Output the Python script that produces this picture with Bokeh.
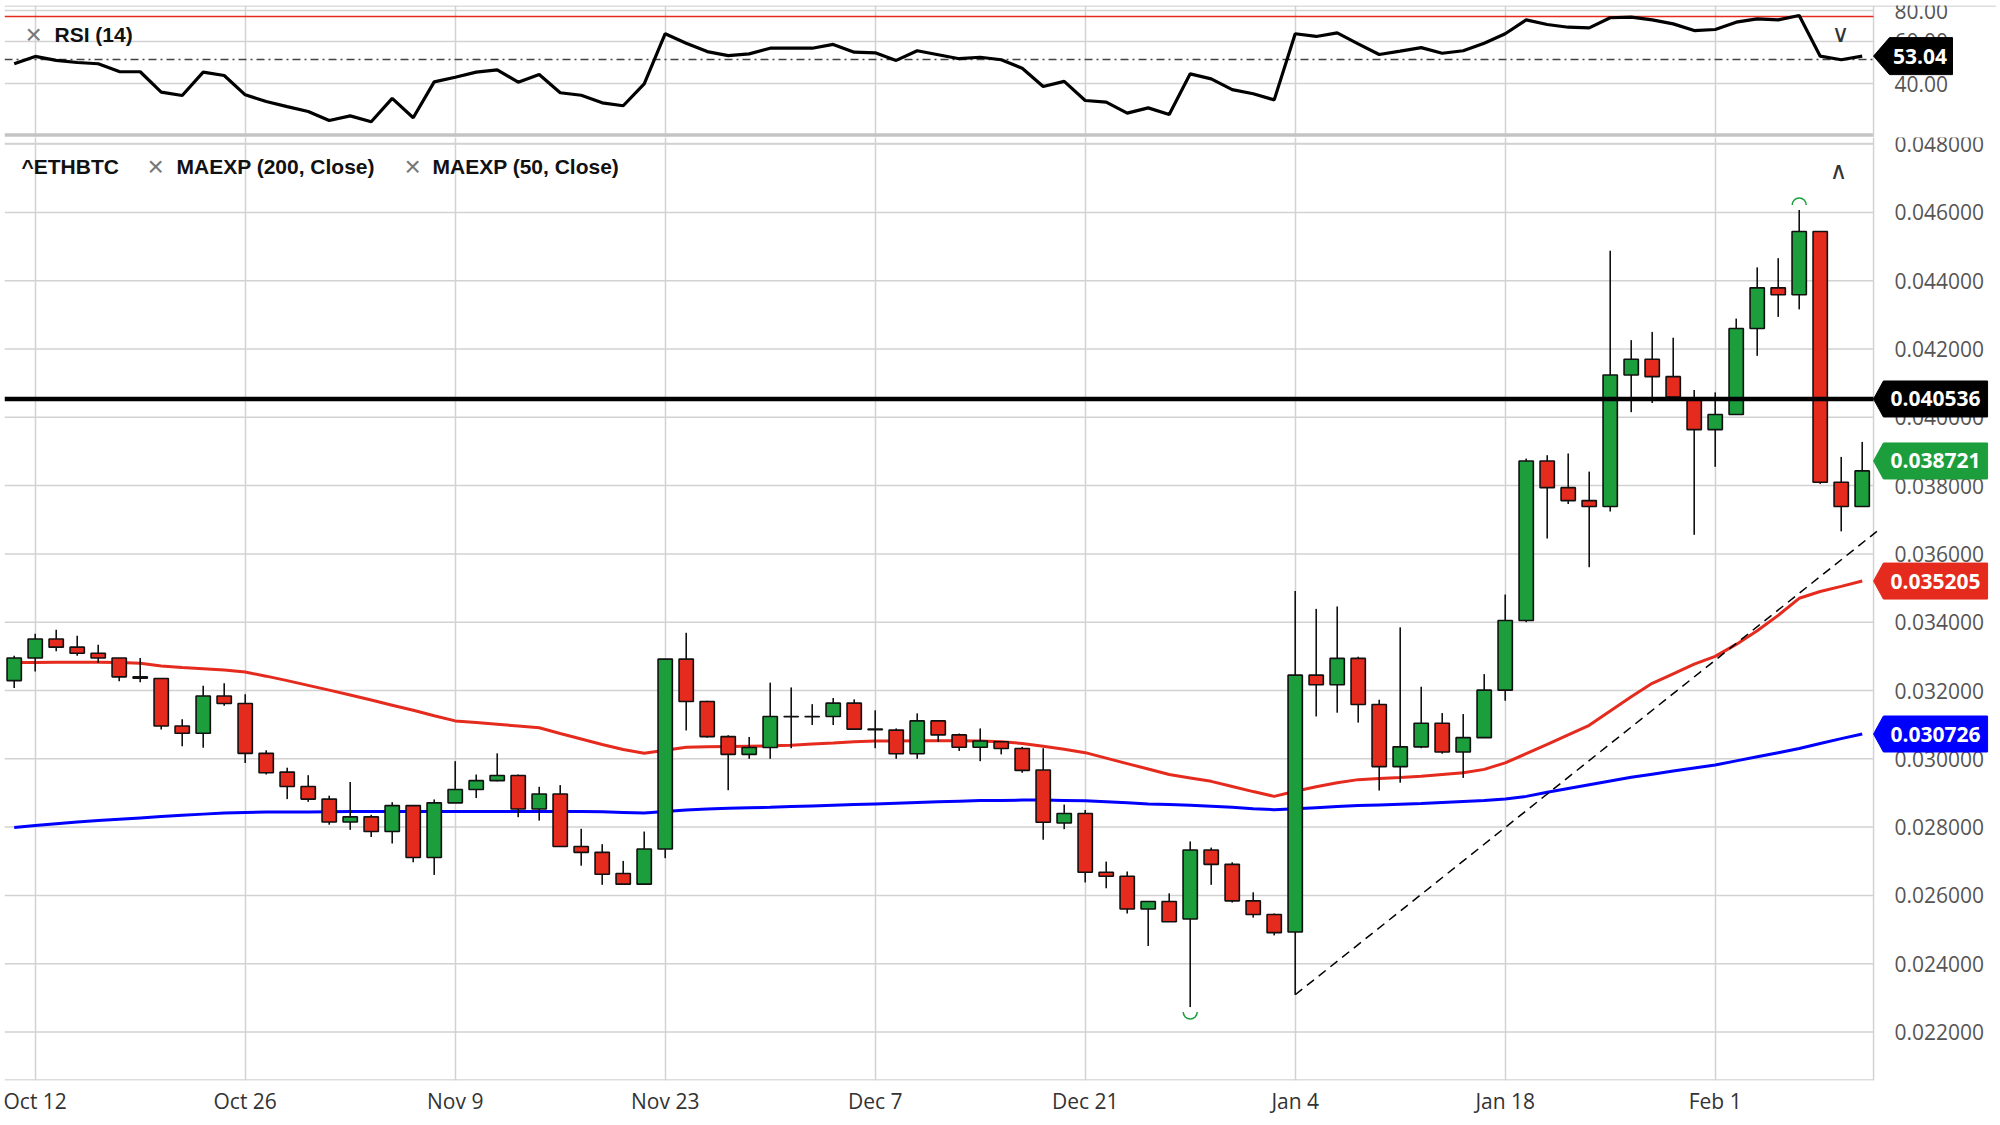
from bokeh.plotting import figure
from bokeh.models import FixedTicker, Label, Range1d
from bokeh.layouts import column
from bokeh.embed import file_html
from bokeh.resources import INLINE
from bokeh.core.properties import value

# ---------------- data ----------------
opens = [0.03229, 0.03295, 0.03351, 0.03327, 0.03309, 0.03295, 0.03240, 0.03235, 0.03096, 0.03075,
         0.03184, 0.03162, 0.03016, 0.02961, 0.02919, 0.02882, 0.02815, 0.02830, 0.02787, 0.02863,
         0.02711, 0.02871, 0.02910, 0.02936, 0.02951, 0.02853, 0.02897, 0.02743, 0.02726, 0.02664,
         0.02633, 0.02736, 0.03292, 0.03168, 0.03065, 0.03013, 0.03033, 0.03124, 0.03123, 0.03124,
         0.03163, 0.03087, 0.03084, 0.03015, 0.03111, 0.03070, 0.03034, 0.03050, 0.03030, 0.02967,
         0.02812, 0.02840, 0.02668, 0.02656, 0.02560, 0.02582, 0.02531, 0.02733, 0.02691, 0.02584,
         0.02544, 0.02493, 0.03245, 0.03217, 0.03294, 0.03159, 0.02977, 0.03035, 0.03104, 0.03020,
         0.03062, 0.03201, 0.03405, 0.03872, 0.03794, 0.03756, 0.03739, 0.04124, 0.04170, 0.04119,
         0.04051, 0.03964, 0.04008, 0.04260, 0.04379, 0.04359, 0.04544, 0.03810, 0.03739]
highs = [0.03302, 0.03366, 0.03378, 0.03360, 0.03334, 0.03295, 0.03295, 0.03235, 0.03116, 0.03214,
         0.03221, 0.03189, 0.03025, 0.02974, 0.02952, 0.02892, 0.02932, 0.02836, 0.02873, 0.02863,
         0.02881, 0.02993, 0.02954, 0.03016, 0.02954, 0.02918, 0.02923, 0.02795, 0.02750, 0.02701,
         0.02787, 0.03292, 0.03369, 0.03170, 0.03069, 0.03064, 0.03223, 0.03209, 0.03160, 0.03178,
         0.03174, 0.03142, 0.03089, 0.03133, 0.03111, 0.03074, 0.03089, 0.03050, 0.03035, 0.03031,
         0.02866, 0.02850, 0.02699, 0.02670, 0.02583, 0.02606, 0.02758, 0.02740, 0.02697, 0.02609,
         0.02547, 0.03491, 0.03439, 0.03446, 0.03299, 0.03173, 0.03385, 0.03211, 0.03134, 0.03131,
         0.03248, 0.03481, 0.03879, 0.03889, 0.03894, 0.03841, 0.04488, 0.04226, 0.04250, 0.04233,
         0.04080, 0.04073, 0.04289, 0.04439, 0.04466, 0.04607, 0.04544, 0.03884, 0.03928]
lows = [0.03207, 0.03256, 0.03315, 0.03302, 0.03281, 0.03227, 0.03224, 0.03086, 0.03037, 0.03032,
        0.03155, 0.02988, 0.02954, 0.02882, 0.02874, 0.02807, 0.02792, 0.02771, 0.02752, 0.02697,
        0.02660, 0.02871, 0.02885, 0.02934, 0.02829, 0.02819, 0.02743, 0.02687, 0.02631, 0.02631,
        0.02633, 0.02709, 0.03083, 0.03062, 0.02908, 0.03000, 0.03000, 0.03031, 0.03099, 0.03099,
        0.03087, 0.03031, 0.03000, 0.03000, 0.03050, 0.03023, 0.02993, 0.03013, 0.02959, 0.02763,
        0.02794, 0.02638, 0.02621, 0.02547, 0.02452, 0.02523, 0.02273, 0.02631, 0.02579, 0.02535,
        0.02483, 0.02309, 0.03124, 0.03135, 0.03106, 0.02907, 0.02930, 0.03031, 0.03015, 0.02944,
        0.03062, 0.03170, 0.03400, 0.03645, 0.03746, 0.03561, 0.03724, 0.04015, 0.04042, 0.04054,
        0.03656, 0.03855, 0.04008, 0.04180, 0.04294, 0.04316, 0.03805, 0.03666, 0.03739]
closes = [0.03295, 0.03351, 0.03327, 0.03309, 0.03295, 0.03240, 0.03236, 0.03096, 0.03075, 0.03184,
          0.03162, 0.03016, 0.02959, 0.02919, 0.02882, 0.02815, 0.02830, 0.02787, 0.02863, 0.02711,
          0.02871, 0.02910, 0.02936, 0.02951, 0.02853, 0.02897, 0.02743, 0.02726, 0.02662, 0.02633,
          0.02736, 0.03292, 0.03168, 0.03065, 0.03013, 0.03033, 0.03124, 0.03123, 0.03124, 0.03163,
          0.03087, 0.03085, 0.03015, 0.03111, 0.03070, 0.03034, 0.03052, 0.03030, 0.02966, 0.02814,
          0.02840, 0.02668, 0.02656, 0.02560, 0.02582, 0.02523, 0.02733, 0.02691, 0.02584, 0.02544,
          0.02491, 0.03245, 0.03217, 0.03294, 0.03159, 0.02977, 0.03035, 0.03104, 0.03020, 0.03062,
          0.03201, 0.03405, 0.03872, 0.03794, 0.03756, 0.03739, 0.04124, 0.04170, 0.04119, 0.04059,
          0.03964, 0.04008, 0.04260, 0.04379, 0.04359, 0.04544, 0.03810, 0.03739, 0.03843]

ema50 = [0.03282, 0.03282, 0.03283, 0.03283, 0.03283, 0.03282, 0.03280, 0.03272, 0.03267, 0.03264,
         0.03260, 0.03254, 0.03242, 0.03229, 0.03215, 0.03201, 0.03187, 0.03172, 0.03157, 0.03142,
         0.03126, 0.03111, 0.03106, 0.03101, 0.03096, 0.03091, 0.03074, 0.03058, 0.03042, 0.03027,
         0.03016, 0.03025, 0.03034, 0.03035, 0.03036, 0.03037, 0.03038, 0.03040, 0.03043, 0.03046,
         0.03050, 0.03052, 0.03052, 0.03053, 0.03053, 0.03053, 0.03052, 0.03050, 0.03045, 0.03037,
         0.03028, 0.03018, 0.03002, 0.02986, 0.02970, 0.02954, 0.02944, 0.02934, 0.02919, 0.02904,
         0.02890, 0.02905, 0.02918, 0.02930, 0.02939, 0.02942, 0.02945, 0.02949, 0.02954, 0.02959,
         0.02969, 0.02988, 0.03015, 0.03042, 0.03070, 0.03098, 0.03140, 0.03182, 0.03221, 0.03249,
         0.03277, 0.03300, 0.03335, 0.03375, 0.03420, 0.03470, 0.03490, 0.03505, 0.035205]
ema200 = [0.02799, 0.02805, 0.02810, 0.02815, 0.02819, 0.02823, 0.02827, 0.02831, 0.02835, 0.02838,
          0.02841, 0.02843, 0.02844, 0.02844, 0.02844, 0.02845, 0.02846, 0.02846, 0.02846, 0.02846,
          0.02846, 0.02846, 0.02846, 0.02846, 0.02846, 0.02846, 0.02846, 0.02846, 0.02845, 0.02843,
          0.02841, 0.02846, 0.02850, 0.02853, 0.02855, 0.02857, 0.02858, 0.02860, 0.02862, 0.02864,
          0.02866, 0.02868, 0.02870, 0.02872, 0.02874, 0.02876, 0.02878, 0.02878, 0.02879, 0.02879,
          0.02878, 0.02877, 0.02874, 0.02871, 0.02868, 0.02866, 0.02864, 0.02861, 0.02858, 0.02854,
          0.02851, 0.02854, 0.02857, 0.02860, 0.02863, 0.02865, 0.02867, 0.02869, 0.02872, 0.02875,
          0.02878, 0.02882, 0.02890, 0.02902, 0.02913, 0.02924, 0.02935, 0.02946, 0.02955, 0.02964,
          0.02973, 0.02982, 0.02994, 0.03006, 0.03018, 0.03030, 0.03045, 0.03059, 0.030726]

rsi = [49.4, 52.9, 51.0, 50.0, 49.4, 45.7, 45.6, 35.9, 34.3, 45.4,
       43.8, 34.6, 31.4, 29.0, 26.7, 22.4, 24.6, 21.8, 32.9, 23.7,
       40.8, 43.0, 45.4, 46.5, 40.6, 44.3, 35.6, 34.4, 30.8, 29.4,
       39.8, 63.7, 59.2, 55.2, 53.3, 54.1, 56.8, 56.8, 56.8, 58.6,
       54.9, 54.6, 51.0, 55.6, 53.7, 51.8, 52.5, 51.3, 47.3, 38.6,
       41.0, 31.9, 31.1, 25.9, 28.4, 25.2, 44.6, 42.2, 37.1, 35.1,
       32.2, 63.7, 62.4, 64.1, 58.9, 53.8, 55.4, 57.1, 54.4, 55.6,
       59.2, 63.7, 70.3, 68.1, 66.8, 66.5, 71.3, 71.6, 70.3, 68.4,
       65.2, 65.7, 69.2, 70.8, 70.3, 72.4, 53.0, 51.3, 53.04]

tick_idx = [1, 11, 21, 31, 41, 51, 61, 71, 81]
tick_labels = ["Oct 12", "Oct 26", "Nov 9", "Nov 23", "Dec 7", "Dec 21", "Jan 4", "Jan 18", "Feb 1"]
price_ticks = [0.022, 0.024, 0.026, 0.028, 0.030, 0.032, 0.034, 0.036, 0.038,
               0.040, 0.042, 0.044, 0.046, 0.048]
rsi_ticks = [40, 60, 80]
rsi_upper = 71.9
rsi_mid = 51.4
level_line = 0.040536
last_price = 0.038721
last_rsi = 53.04
trend_x = [61, 88.7]
trend_y = [0.02309, 0.03666]
low_mark_idx = 56
high_mark_idx = 85

# ---------------- style / layout constants ----------------
GREEN = "#1c9e3c"
RED = "#e52a1e"
BLUE = "#0000ff"
GRID = "#d2d2d2"
BORDER = "#c4c4c4"
FONT = value("Open Sans")

FW = 1992
X_LO, X_HI = -0.462, 94.395          # whole frame, including the price-label strip
PANE_R = 88.54                       # right edge of the plotting pane
TAG_BODY, TAG_R, TAG_TXT = 89.01, 93.97, 91.49
AX_TXT = 89.54
RSI_LO, RSI_HI = 14.29, 77.14
RSI_FH = 132
PRICE_LO, PRICE_HI = 0.02058, 0.048193
MAIN_FH = 943

xr = Range1d(X_LO, X_HI)
dp = (PRICE_HI - PRICE_LO) / MAIN_FH     # price per pixel
dr = (RSI_HI - RSI_LO) / RSI_FH          # rsi per pixel

# ---------------- RSI panel ----------------
r = figure(frame_width=FW, frame_height=RSI_FH, x_range=xr, y_range=Range1d(RSI_LO, RSI_HI),
           x_axis_location=None, y_axis_location=None, toolbar_location=None,
           output_backend="svg", min_border_left=4, min_border_right=0,
           min_border_top=5, min_border_bottom=0)
r.outline_line_color = None
r.xgrid.ticker = FixedTicker(ticks=tick_idx)
r.xgrid.grid_line_color = GRID
r.xgrid.grid_line_width = 1.5
r.ygrid.grid_line_color = None

r.segment(x0=[X_LO] * 2, x1=[PANE_R] * 2, y0=rsi_ticks[:2], y1=rsi_ticks[:2],
          line_color=GRID, line_width=1.5)
r.segment(x0=[X_LO], x1=[PANE_R], y0=[RSI_HI - 5 * dr], y1=[RSI_HI - 5 * dr],
          line_color=GRID, line_width=1.5)
r.segment(x0=[X_LO], x1=[TAG_R + 0.4], y0=[RSI_HI - 0.5 * dr], y1=[RSI_HI - 0.5 * dr],
          line_color=GRID, line_width=1.5)
r.segment(x0=[X_LO], x1=[PANE_R], y0=[RSI_LO + 2.5 * dr], y1=[RSI_LO + 2.5 * dr],
          line_color=BORDER, line_width=3.5)
r.segment(x0=[PANE_R], x1=[PANE_R], y0=[RSI_LO], y1=[RSI_HI], line_color=GRID, line_width=1.5)
r.segment(x0=[X_LO], x1=[PANE_R], y0=[rsi_upper], y1=[rsi_upper], line_color=RED, line_width=1.5)
r.segment(x0=[X_LO], x1=[PANE_R], y0=[rsi_mid], y1=[rsi_mid], line_color="#444444",
          line_width=1.5, line_dash="8 4 2 4")

r.line(list(range(len(rsi))), rsi, line_color="black", line_width=3.2)

r.text(x=[AX_TXT] * 3, y=[40, 60, RSI_HI - 5 * dr], text=[f"{v:.2f}" for v in rsi_ticks],
       text_font=FONT, text_font_size="21px", text_color="#555555",
       text_align="left", text_baseline="middle")

rh = 18.5 * dr
r.patches(xs=[[PANE_R, 89.30, 92.30, 92.30, 89.30]],
          ys=[[last_rsi, last_rsi + rh, last_rsi + rh, last_rsi - rh, last_rsi - rh]],
          fill_color="black", line_color="black", line_width=1)
r.text(x=[90.75], y=[last_rsi], text=[f"{last_rsi:.2f}"], text_font=FONT,
       text_font_style="bold", text_font_size="21px", text_color="white",
       text_align="center", text_baseline="middle")

r.add_layout(Label(x=21, y=103, x_units="screen", y_units="screen", text="\u00d7",
                   text_font="Liberation Sans", text_font_size="28px", text_color="#777777",
                   text_baseline="middle"))
r.add_layout(Label(x=50, y=103, x_units="screen", y_units="screen", text="RSI (14)",
                   text_font="Liberation Sans", text_font_style="bold", text_font_size="21px",
                   text_color="#111111", text_baseline="middle"))
r.add_layout(Label(x=1836, y=104, x_units="screen", y_units="screen", text="\u2228",
                   text_font="DejaVu Sans", text_font_size="24px", text_color="#333333",
                   text_baseline="middle", text_align="center"))

# ---------------- price panel ----------------
p = figure(frame_width=FW, frame_height=MAIN_FH, x_range=xr, y_range=Range1d(PRICE_LO, PRICE_HI),
           x_axis_location="below", y_axis_location=None, toolbar_location=None,
           output_backend="svg", min_border_left=4, min_border_right=0,
           min_border_top=0, min_border_bottom=40)
p.outline_line_color = None
p.xgrid.ticker = FixedTicker(ticks=tick_idx)
p.xgrid.grid_line_color = GRID
p.xgrid.grid_line_width = 1.5
p.ygrid.grid_line_color = None

xa = p.xaxis[0]
xa.ticker = FixedTicker(ticks=tick_idx)
xa.major_label_overrides = {i: t for i, t in zip(tick_idx, tick_labels)}
xa.axis_line_color = None
xa.major_tick_line_color = None
xa.minor_tick_line_color = None
xa.major_tick_out = 0
xa.major_label_standoff = 6
xa.major_label_text_font = "Open Sans"
xa.major_label_text_font_size = "21px"
xa.major_label_text_color = "#333333"

n_pt = len(price_ticks)
p.segment(x0=[X_LO] * n_pt, x1=[PANE_R] * n_pt, y0=price_ticks, y1=price_ticks,
          line_color=GRID, line_width=1.5)
top_line = PRICE_HI - 6 * dp
p.segment(x0=[X_LO], x1=[PANE_R], y0=[top_line], y1=[top_line], line_color=GRID, line_width=1.5)
p.segment(x0=[PANE_R], x1=[PANE_R], y0=[PRICE_LO], y1=[PRICE_HI], line_color=GRID, line_width=1.5)
p.segment(x0=[X_LO], x1=[PANE_R], y0=[PRICE_LO + 0.5 * dp], y1=[PRICE_LO + 0.5 * dp],
          line_color=GRID, line_width=1.5)

idx = list(range(len(opens)))
p.line(idx, ema200, line_color=BLUE, line_width=3)
p.line(idx, ema50, line_color=RED, line_width=3)
p.line(trend_x, trend_y, line_color="black", line_width=1.5, line_dash="9 6")

tops = [max(o, c) for o, c in zip(opens, closes)]
bots = [min(o, c) for o, c in zip(opens, closes)]
cols = [GREEN if c > o else RED for o, c in zip(opens, closes)]
p.segment(x0=idx, y0=lows, x1=idx, y1=highs, line_color="#111111", line_width=1.6)
p.vbar(x=idx, width=0.68, top=tops, bottom=bots, fill_color=cols, line_color="#111111",
       line_width=1.6)

# swing markers
p.arc(x=[low_mark_idx], y=[lows[low_mark_idx] - 5 * dp], radius=7, radius_units="screen",
      start_angle=3.14159, end_angle=6.28318, line_color=GREEN, line_width=1.5)
p.arc(x=[high_mark_idx], y=[highs[high_mark_idx] + 5 * dp], radius=7, radius_units="screen",
      start_angle=0, end_angle=3.14159, line_color=GREEN, line_width=1.5)

# horizontal level
p.segment(x0=[X_LO], x1=[PANE_R], y0=[level_line], y1=[level_line], line_color="black",
          line_width=4.5)

# price scale labels
p.text(x=[AX_TXT] * n_pt, y=price_ticks, text=[f"{t:.6f}" for t in price_ticks],
       text_font=FONT, text_font_size="21px", text_color="#555555",
       text_align="left", text_baseline="middle")

# price tags
tag_vals = [level_line, last_price, ema50[-1], ema200[-1]]
tag_cols = ["black", GREEN, RED, BLUE]
th = 18 * dp
p.patches(xs=[[PANE_R, TAG_BODY, TAG_R, TAG_R, TAG_BODY] for _ in tag_vals],
          ys=[[v, v + th, v + th, v - th, v - th] for v in tag_vals],
          fill_color=tag_cols, line_color=tag_cols, line_width=1)
p.text(x=[TAG_TXT] * len(tag_vals), y=tag_vals, text=[f"{v:.6f}" for v in tag_vals],
       text_font=FONT, text_font_style="bold", text_font_size="21px", text_color="white",
       text_align="center", text_baseline="middle")

# legend texts
for x, txt, bold, col, size in [(17, "^ETHBTC", True, "#111111", "21px"),
                                (143, "\u00d7", False, "#777777", "28px"),
                                (172, "MAEXP (200, Close)", True, "#111111", "21px"),
                                (400, "\u00d7", False, "#777777", "28px"),
                                (428, "MAEXP (50, Close)", True, "#111111", "21px")]:
    p.add_layout(Label(x=x, y=914, x_units="screen", y_units="screen", text=txt,
                       text_font="Liberation Sans", text_font_style="bold" if bold else "normal",
                       text_font_size=size, text_color=col, text_baseline="middle"))
p.add_layout(Label(x=1834, y=910, x_units="screen", y_units="screen", text="\u2227",
                   text_font="DejaVu Sans", text_font_size="24px", text_color="#333333",
                   text_baseline="middle", text_align="center"))

layout = column(r, p, spacing=0)
open("out.html", "w").write(file_html(layout, INLINE))
